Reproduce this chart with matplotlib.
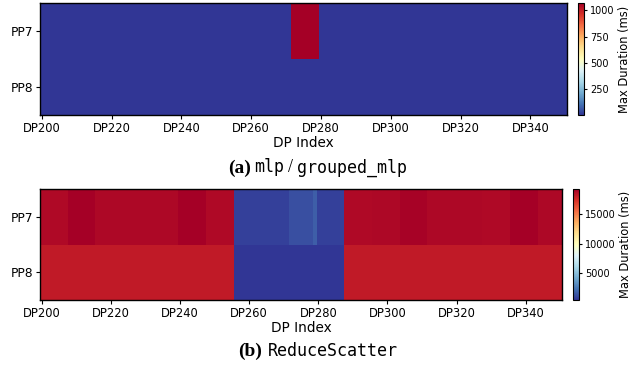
import numpy as np
import matplotlib
matplotlib.use("Agg")
import matplotlib.pyplot as plt

# ---------------- data ----------------
dp_index = np.arange(200, 351)              # DP200 .. DP350 (151 columns)
rows = ["PP7", "PP8"]
xtick_values = [200, 220, 240, 260, 280, 300, 320, 340]

# (a) mlp / grouped_mlp : max duration (ms)
mlp_base = 8.0                               # typical value everywhere
mlp_slow_start, mlp_slow_end = 272, 279      # slow node on PP7
mlp_slow_value = 1070.0

# (b) ReduceScatter : per-node (8 DP ranks per node) max duration (ms)
node_starts = [200, 208, 216, 224, 232, 240, 248, 256, 264, 272,
               280, 288, 296, 304, 312, 320, 328, 336, 344]
rs_pp7_node = [18950, 19300, 19000, 19000, 18980, 19330, 18950, 700, 700, 1100,
               700, 18900, 19000, 19250, 18980, 19000, 18950, 19280, 18980]
rs_pp8_node = [18250, 18250, 18250, 18250, 18250, 18250, 18250, 340, 340, 340,
               340, 18250, 18250, 18250, 18250, 18250, 18250, 18250, 18250]
rs_pp7_dp279 = 1550                          # one lighter column
rs_vmin, rs_vmax = 330, 19330
mlp_vmin, mlp_vmax = 5, 1070


def expand(node_vals):
    out = np.empty(len(dp_index))
    for i, d in enumerate(dp_index):
        k = np.searchsorted(node_starts, d, side="right") - 1
        out[i] = node_vals[k]
    return out


mlp = np.full((2, len(dp_index)), mlp_base)
mask = (dp_index >= mlp_slow_start) & (dp_index <= mlp_slow_end)
mlp[0, mask] = mlp_slow_value

rs = np.vstack([expand(rs_pp7_node), expand(rs_pp8_node)])
rs[0, dp_index == 279] = rs_pp7_dp279

# ---------------- figure ----------------
W, H = 631, 366
fig = plt.figure(figsize=(W / 100, H / 100), dpi=100)


def px(l, t, r, b):
    return [l / W, 1 - b / H, (r - l) / W, (b - t) / H]


cmap = "RdYlBu_r"
xedges = np.arange(dp_index[0] - 0.5, dp_index[-1] + 1.0, 1.0)
yedges = np.array([-0.5, 0.5, 1.5])


def heat(axbox, caxbox, data, vmin, vmax, cticks):
    ax = fig.add_axes(px(*axbox))
    m = ax.pcolormesh(xedges, yedges, data, cmap=cmap, vmin=vmin, vmax=vmax)
    ax.set_xlim(xedges[0], xedges[-1])
    ax.set_ylim(1.5, -0.5)
    ax.set_yticks([0, 1])
    ax.set_yticklabels(rows, fontsize=8.8)
    ax.set_xticks(xtick_values)
    ax.set_xticklabels([f"DP{v}" for v in xtick_values], fontsize=8.3)
    ax.tick_params(length=3, width=0.8, pad=2)
    ax.set_xlabel("DP Index", fontsize=9.8, labelpad=1)
    for s in ax.spines.values():
        s.set_linewidth(1.0)
    cax = fig.add_axes(px(*caxbox))
    cb = fig.colorbar(m, cax=cax)
    cb.set_ticks(cticks)
    cb.ax.tick_params(labelsize=7, length=2.5, width=0.8, pad=2)
    cb.set_label("Max Duration (ms)", fontsize=8.3, labelpad=2)
    cb.outline.set_linewidth(0.8)
    return ax


heat((40, 3, 567, 115), (578, 3, 584, 115), mlp, mlp_vmin, mlp_vmax,
     [250, 500, 750, 1000])
heat((40, 189, 562, 300), (573, 189, 579, 300), rs, rs_vmin, rs_vmax,
     [5000, 10000, 15000])


# ---------------- captions (mixed fonts) ----------------
def caption(pieces, cx, baseline_px):
    fig.canvas.draw()
    r = fig.canvas.get_renderer()
    texts = []
    widths = []
    for s, kw, gap in pieces:
        t = fig.text(0, 1 - baseline_px / H, s, va="baseline", ha="left", **kw)
        texts.append(t)
        widths.append(t.get_window_extent(renderer=r).width)
    total = sum(widths) + sum(g for _, _, g in pieces[:-1])
    x = cx - total / 2
    for t, w, (_, _, g) in zip(texts, widths, pieces):
        t.set_x(x / W)
        x += w + g


serif_b = dict(family="Liberation Serif", fontweight="bold", fontsize=14)
serif = dict(family="Liberation Serif", fontsize=13)
mono = dict(family="DejaVu Sans Mono", fontsize=12)

caption([("(a)", serif_b, 3), ("mlp", mono, 4), ("/", serif, 4),
         ("grouped_mlp", mono, 0)], 318, 172.5)
caption([("(b)", serif_b, 5), ("ReduceScatter", mono, 0)], 318, 355.5)

fig.savefig("out.png", dpi=100)
